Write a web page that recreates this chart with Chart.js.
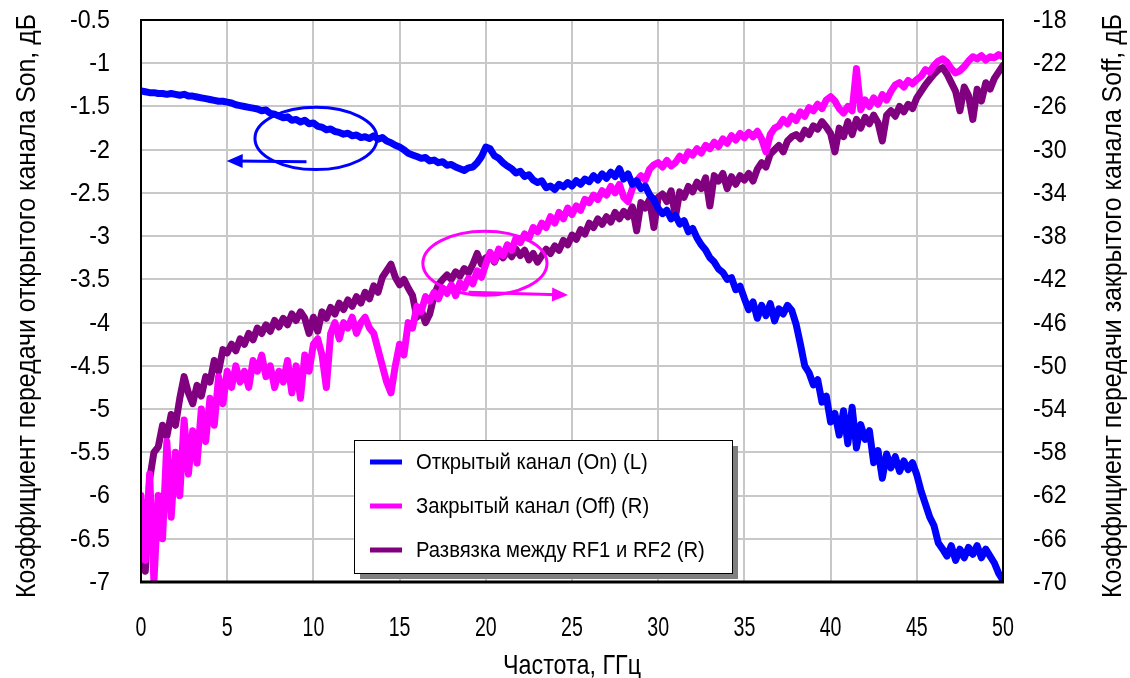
<!DOCTYPE html>
<html>
<head>
<meta charset="utf-8">
<script src="https://cdn.jsdelivr.net/npm/chart.js@4.4.1/dist/chart.umd.min.js"></script>
<style>
  html, body { margin: 0; padding: 0; background: #fff; }
  #wrap { width: 1130px; height: 678px; }
</style>
</head>
<body>
<div id="wrap"><canvas id="c" width="1130" height="678"></canvas></div>
<script>
// frequency, GHz
var freq = [
  0,0.25,0.5,0.75,1,1.25,1.5,1.75,2,2.25,2.5,2.75,3,3.25,3.5,3.75,4,4.25,4.5,4.75,
  5,5.25,5.5,5.75,6,6.25,6.5,6.75,7,7.25,7.5,7.75,8,8.25,8.5,8.75,9,9.25,9.5,9.75,
  10,10.25,10.5,10.75,11,11.25,11.5,11.75,12,12.25,12.5,12.75,13,13.25,13.5,13.75,14,14.25,14.5,14.75,
  15,15.25,15.5,15.75,16,16.25,16.5,16.75,17,17.25,17.5,17.75,18,18.25,18.5,18.75,19,19.25,19.5,19.75,
  20,20.25,20.5,20.75,21,21.25,21.5,21.75,22,22.25,22.5,22.75,23,23.25,23.5,23.75,24,24.25,24.5,24.75,
  25,25.25,25.5,25.75,26,26.25,26.5,26.75,27,27.25,27.5,27.75,28,28.25,28.5,28.75,29,29.25,29.5,29.75,
  30,30.25,30.5,30.75,31,31.25,31.5,31.75,32,32.25,32.5,32.75,33,33.25,33.5,33.75,34,34.25,34.5,34.75,
  35,35.25,35.5,35.75,36,36.25,36.5,36.75,37,37.25,37.5,37.75,38,38.25,38.5,38.75,39,39.25,39.5,39.75,
  40,40.25,40.5,40.75,41,41.25,41.5,41.75,42,42.25,42.5,42.75,43,43.25,43.5,43.75,44,44.25,44.5,44.75,
  45,45.25,45.5,45.75,46,46.25,46.5,46.75,47,47.25,47.5,47.75,48,48.25,48.5,48.75,49,49.25,49.5,49.75,
  50
];

// open channel Son, dB (left axis)
var sOn = [
  -1.32,-1.33,-1.34,-1.34,-1.35,-1.35,-1.36,-1.35,-1.36,-1.37,-1.36,-1.38,-1.38,-1.39,-1.40,-1.41,-1.42,-1.43,-1.44,-1.44,
  -1.45,-1.46,-1.48,-1.49,-1.50,-1.51,-1.52,-1.53,-1.55,-1.54,-1.58,-1.59,-1.61,-1.63,-1.62,-1.66,-1.65,-1.68,-1.66,-1.70,
  -1.69,-1.73,-1.74,-1.77,-1.76,-1.79,-1.80,-1.82,-1.81,-1.84,-1.83,-1.86,-1.85,-1.87,-1.84,-1.88,-1.86,-1.90,-1.92,-1.95,
  -1.97,-2.00,-2.04,-2.06,-2.08,-2.10,-2.09,-2.13,-2.12,-2.15,-2.14,-2.18,-2.17,-2.20,-2.22,-2.24,-2.21,-2.20,-2.15,-2.08,
  -1.97,-1.99,-2.07,-2.10,-2.15,-2.19,-2.22,-2.27,-2.25,-2.31,-2.29,-2.35,-2.38,-2.36,-2.44,-2.42,-2.46,-2.40,-2.43,-2.38,
  -2.42,-2.36,-2.40,-2.34,-2.37,-2.30,-2.35,-2.28,-2.33,-2.26,-2.31,-2.22,-2.34,-2.28,-2.40,-2.36,-2.45,-2.42,-2.52,-2.58,
  -2.68,-2.74,-2.70,-2.80,-2.76,-2.86,-2.82,-2.95,-2.91,-3.02,-3.10,-3.16,-3.25,-3.30,-3.38,-3.42,-3.50,-3.48,-3.62,-3.58,
  -3.72,-3.85,-3.76,-3.95,-3.80,-3.92,-3.78,-3.98,-3.84,-3.90,-3.80,-3.86,-4.02,-4.25,-4.50,-4.58,-4.72,-4.66,-4.92,-4.85,
  -5.15,-5.05,-5.30,-5.02,-5.40,-4.98,-5.45,-5.18,-5.35,-5.25,-5.62,-5.48,-5.80,-5.52,-5.68,-5.55,-5.72,-5.60,-5.70,-5.62,
  -5.76,-5.95,-6.10,-6.25,-6.35,-6.55,-6.62,-6.70,-6.58,-6.75,-6.62,-6.72,-6.60,-6.68,-6.58,-6.72,-6.62,-6.70,-6.78,-6.90,
  -6.98
];

// closed channel Soff, dB (right axis)
var sOff = [
  -62,-68,-60,-70,-62,-66,-57,-64,-58,-62,-55,-60,-56,-59,-54,-57,-53,-55.5,-51,-53.5,
  -50.5,-52,-50,-51.5,-50.5,-52,-49.5,-50.5,-49,-51,-50,-52,-50.5,-51.5,-49.5,-52.5,-50,-53,-49,-50.5,
  -48,-47.5,-49,-52,-47,-46,-47.5,-46,-46.5,-45.5,-47,-46,-45.5,-46.5,-47,-48.5,-50,-51.5,-52.5,-50,
  -48,-49,-46,-46.5,-44.5,-45,-43.6,-44,-43.2,-43.8,-42.8,-43.3,-42.5,-43.5,-42.3,-42.8,-41.9,-42.4,-41.2,-41.8,
  -40.6,-39.5,-40.3,-39.2,-39.8,-38.8,-39.3,-38.2,-38.6,-37.8,-38.2,-37.2,-37.6,-36.8,-37.2,-36.2,-36.8,-35.8,-36.4,-35.4,
  -36.0,-35.2,-35.6,-34.6,-34.9,-34.2,-34.6,-33.8,-34.2,-33.4,-34.0,-33.2,-34.4,-34.8,-33.6,-32.9,-32.4,-32.8,-31.8,-31.4,
  -31.2,-31.6,-31.0,-31.5,-31.2,-30.6,-31.0,-30.2,-30.5,-29.9,-30.3,-29.6,-29.9,-29.3,-29.7,-29.0,-29.4,-28.7,-29.1,-28.5,
  -28.9,-28.4,-28.8,-28.3,-29.0,-30.2,-28.6,-28.0,-27.8,-27.2,-27.6,-26.9,-27.3,-26.5,-26.9,-26.1,-26.4,-25.8,-26.2,-25.4,
  -25.1,-25.5,-26.2,-26.6,-26.0,-26.4,-22.5,-26.3,-25.4,-26.0,-25.2,-25.8,-24.9,-25.4,-24.6,-24.0,-23.8,-24.2,-23.6,-23.9,
  -23.5,-23.2,-22.6,-22.8,-22.2,-21.8,-21.6,-21.9,-22.5,-22.9,-22.7,-22.3,-21.8,-21.4,-21.6,-21.3,-21.7,-21.4,-21.5,-21.2,
  -21.4
];

// isolation RF1-RF2, dB (right axis)
var sIso = [
  -66,-69,-60.5,-58,-57.5,-55.5,-56.5,-54.5,-55.5,-53,-51,-52.5,-53.5,-51.8,-52.8,-51,-51.5,-49.5,-50.5,-48.5,
  -48.8,-48,-48.6,-47.5,-48,-47,-47.6,-46.5,-47,-46.2,-46.8,-45.8,-46.4,-45.6,-46.2,-45.2,-45.8,-45,-45.6,-47,
  -45.5,-46.8,-45,-45.6,-44.6,-45.2,-44.2,-44.8,-43.9,-44.5,-43.6,-44.2,-43.2,-43.8,-42.6,-43.2,-41.8,-41.2,-40.6,-41.8,
  -42.5,-42,-42.8,-43.5,-45.5,-44.8,-46,-45.2,-43.5,-42.5,-42,-41.6,-42,-41.3,-41.7,-41,-41.4,-40.6,-39.6,-40.6,
  -40,-39.8,-40.4,-39.5,-40,-39.4,-39.9,-39.2,-39.8,-39.3,-40.2,-39.6,-40.4,-39.8,-39.2,-39.6,-38.9,-39.3,-38.4,-38.8,
  -37.9,-38.3,-37.4,-37.8,-36.8,-37.2,-36.4,-36.9,-36.2,-36.7,-35.8,-36.4,-35.7,-36.2,-35.3,-37.5,-34.9,-35.4,-34.6,-37.2,
  -34.4,-34.1,-34.8,-33.8,-36.2,-33.9,-34.4,-33.4,-33.9,-33.0,-33.6,-32.6,-35.2,-32.4,-32.9,-32.2,-33.6,-32.5,-33.2,-32.4,
  -32.8,-32.2,-32.9,-31.8,-31.2,-31.6,-30.4,-30.0,-29.6,-30.2,-29.2,-28.8,-28.6,-29.0,-28.2,-28.6,-27.8,-28.1,-27.4,-27.9,
  -28.5,-30.2,-28.0,-28.8,-27.4,-28.6,-27.2,-28.0,-27.0,-27.6,-26.8,-27.5,-29.2,-26.8,-26.4,-26.9,-26.0,-26.5,-25.8,-26.2,
  -25.2,-24.6,-24.0,-23.5,-23.0,-22.6,-22.4,-23.0,-23.8,-24.6,-26.4,-24.2,-25.0,-27.2,-24.4,-25.5,-23.8,-24.4,-23.4,-22.8,
  -22.2
];

var seriesNames = [
  "Открытый канал (On) (L)",
  "Закрытый канал (Off) (R)",
  "Развязка между RF1 и RF2 (R)"
];
var seriesColors = ["#0000ff", "#ff00ff", "#800080"];

var xTitle = "Частота, ГГц";
var yLeftTitle = "Коэффициент передачи открытого канала Son, дБ";
var yRightTitle = "Коэффициент передачи закрытого канала Soff, дБ";

var FONT = "'Liberation Sans', Arial, sans-serif";

function pts(ys) {
  var out = [];
  for (var i = 0; i < ys.length && i < freq.length; i++) out.push({ x: freq[i], y: ys[i] });
  return out;
}

// hand-drawn ellipses and arrows, given in data units
var marks = [
  { axis: "yL", color: "#0000ff", cx: 10.15, cy: -1.87, rx: 3.54, ry: 0.36,
    from: [9.6, -2.14], to: [4.97, -2.13] },
  { axis: "yR", color: "#ff00ff", cx: 19.95, cy: -40.5, rx: 3.6, ry: 2.96,
    from: [19.0, -43.2], to: [24.77, -43.45] }
];

function arrow(ctx, x1, y1, x2, y2) {
  var a = Math.atan2(y2 - y1, x2 - x1), L = 16, W = 7;
  ctx.beginPath();
  ctx.moveTo(x1, y1);
  ctx.lineTo(x2 - L * 0.6 * Math.cos(a), y2 - L * 0.6 * Math.sin(a));
  ctx.stroke();
  ctx.beginPath();
  ctx.moveTo(x2, y2);
  ctx.lineTo(x2 - L * Math.cos(a) + W * Math.sin(a), y2 - L * Math.sin(a) - W * Math.cos(a));
  ctx.lineTo(x2 - L * Math.cos(a) - W * Math.sin(a), y2 - L * Math.sin(a) + W * Math.cos(a));
  ctx.closePath();
  ctx.fill();
}

// text squeezed horizontally (the original uses a narrow face)
function txt(ctx, s, x, y, o) {
  ctx.save();
  ctx.translate(x, y);
  if (o.rot) ctx.rotate(o.rot);
  ctx.font = o.size + "px " + FONT;
  var sx = o.sx || 1;
  if (o.width) sx = o.width / ctx.measureText(s).width;
  ctx.scale(sx, 1);
  ctx.textAlign = o.align || "center";
  ctx.textBaseline = "middle";
  ctx.fillStyle = "#000";
  ctx.fillText(s, 0, 0);
  ctx.restore();
}

var decorPlugin = {
  id: "decor",
  afterDatasetsDraw: function(chart) {
    var ctx = chart.ctx, ca = chart.chartArea, xs = chart.scales.x;
    ctx.save();
    marks.forEach(function(m) {
      var ys = chart.scales[m.axis];
      var cx = xs.getPixelForValue(m.cx), cy = ys.getPixelForValue(m.cy);
      var rx = Math.abs(xs.getPixelForValue(m.cx + m.rx) - cx);
      var ry = Math.abs(ys.getPixelForValue(m.cy + m.ry) - cy);
      ctx.strokeStyle = m.color;
      ctx.fillStyle = m.color;
      ctx.lineWidth = 3;
      ctx.beginPath();
      ctx.ellipse(cx, cy, rx, ry, 0, 0, Math.PI * 2);
      ctx.stroke();
      arrow(ctx, xs.getPixelForValue(m.from[0]), ys.getPixelForValue(m.from[1]),
                 xs.getPixelForValue(m.to[0]), ys.getPixelForValue(m.to[1]));
    });

    // frame
    ctx.strokeStyle = "#000";
    ctx.lineWidth = 2;
    ctx.strokeRect(ca.left, ca.top, ca.right - ca.left, ca.bottom - ca.top);
    ctx.lineWidth = 3;
    ctx.beginPath();
    ctx.moveTo(ca.left - 1, ca.bottom);
    ctx.lineTo(ca.right + 1, ca.bottom);
    ctx.stroke();

    // legend box
    var lx = ca.left + 213, ly = ca.top + 420, lw = 378, lh = 133;
    ctx.fillStyle = "#808080";
    ctx.fillRect(lx + 6, ly + 6, lw, lh);
    ctx.fillStyle = "#fff";
    ctx.fillRect(lx, ly, lw, lh);
    ctx.strokeStyle = "#000";
    ctx.lineWidth = 1;
    ctx.strokeRect(lx + 0.5, ly + 0.5, lw, lh);
    chart.data.datasets.forEach(function(ds, i) {
      var yy = ly + 22 + i * 44;
      ctx.strokeStyle = ds.borderColor;
      ctx.lineWidth = 5;
      ctx.beginPath();
      ctx.moveTo(lx + 16, yy);
      ctx.lineTo(lx + 48, yy);
      ctx.stroke();
      txt(ctx, ds.label, lx + 62, yy + 1, { size: 22, sx: 0.92, align: "left" });
    });
    ctx.restore();
  },
  afterDraw: function(chart) {
    var ctx = chart.ctx, ca = chart.chartArea;
    var xs = chart.scales.x, yl = chart.scales.yL, yr = chart.scales.yR;
    xs.ticks.forEach(function(t) {
      txt(ctx, String(t.value), xs.getPixelForValue(t.value), ca.bottom + 46, { size: 28, sx: 0.7 });
    });
    yl.ticks.forEach(function(t) {
      txt(ctx, String(t.value), ca.left - 31, yl.getPixelForValue(t.value) + 1, { size: 25, sx: 0.93, align: "right" });
    });
    yr.ticks.forEach(function(t) {
      txt(ctx, String(t.value), ca.right + 30, yr.getPixelForValue(t.value) + 1, { size: 25, sx: 0.93, align: "left" });
    });
    var midY = (ca.top + ca.bottom) / 2 + 5;
    txt(ctx, xTitle, (ca.left + ca.right) / 2, 666, { size: 28, width: 138 });
    txt(ctx, yLeftTitle, 27, midY, { size: 28, width: 584, rot: -Math.PI / 2 });
    txt(ctx, yRightTitle, 1113, midY, { size: 28, width: 584, rot: -Math.PI / 2 });
  }
};

var gridStyle = { color: "#c8c8c8", lineWidth: 2, drawTicks: false };

new Chart(document.getElementById("c"), {
  type: "line",
  data: {
    datasets: [
      { label: seriesNames[0], data: pts(sOn), yAxisID: "yL", borderColor: seriesColors[0], order: 1 },
      { label: seriesNames[1], data: pts(sOff), yAxisID: "yR", borderColor: seriesColors[1], order: 2 },
      { label: seriesNames[2], data: pts(sIso), yAxisID: "yR", borderColor: seriesColors[2], order: 3 }
    ]
  },
  options: {
    responsive: false,
    animation: false,
    layout: { padding: { top: 20, left: 0, right: 0, bottom: 0 } },
    elements: {
      line: { borderWidth: 7, tension: 0, borderJoinStyle: "round", borderCapStyle: "round" },
      point: { radius: 0, hoverRadius: 0 }
    },
    plugins: { legend: { display: false }, tooltip: { enabled: false } },
    scales: {
      x: {
        type: "linear", min: 0, max: 50,
        grid: gridStyle,
        border: { display: false },
        ticks: { stepSize: 5, display: false },
        afterFit: function(s) { s.height = 96; }
      },
      yL: {
        type: "linear", position: "left", min: -7, max: -0.5,
        grid: gridStyle,
        border: { display: false },
        ticks: { stepSize: 0.5, display: false },
        afterFit: function(s) { s.width = 141; }
      },
      yR: {
        type: "linear", position: "right", min: -70, max: -18,
        grid: { drawOnChartArea: false, drawTicks: false },
        border: { display: false },
        ticks: { stepSize: 4, display: false },
        afterFit: function(s) { s.width = 127; }
      }
    }
  },
  plugins: [decorPlugin]
});
</script>
</body>
</html>
